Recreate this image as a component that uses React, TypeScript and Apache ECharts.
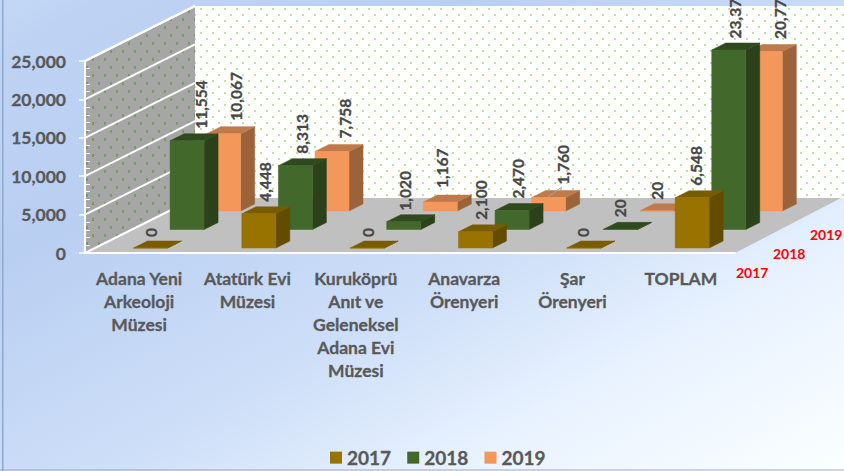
import React, { useEffect, useRef } from "react";
import * as echarts from "echarts";

const categories = [
  "Adana Yeni\nArkeoloji\nMüzesi",
  "Atatürk Evi\nMüzesi",
  "Kuruköprü\nAnıt ve\nGeleneksel\nAdana Evi\nMüzesi",
  "Anavarza\nÖrenyeri",
  "Şar\nÖrenyeri",
  "TOPLAM",
];
const years = ["2017", "2018", "2019"];
const values2017 = [0, 4448, 0, 2100, 0, 6548];
const values2018 = [11554, 8313, 1020, 2470, 20, 23377];
const values2019 = [10067, 7758, 1167, 1760, 20, 20772];
const axisTicks = [0, 5000, 10000, 15000, 20000, 25000];

const FONT = "Lato, Carlito, sans-serif";
const TEXT = "#595959";

// depth-projection constants of the 3D look
const WALL_DX = 110, WALL_DY = 55;
const SLOT_DX = 36.6, SLOT_DY = 18.5;
const BAR_W = 34, BAR_DX = 14, BAR_DY = 7;
const BAR_SHIFT = -5.7, FRONT_GAP = 5;

const faces = [
  { front: "#997300", side: "#634b00", top: "#7a5c00" },
  { front: "#43682b", side: "#2a4119", top: "#2f4a1e" },
  { front: "#f4975a", side: "#9c6239", top: "#bf7a4b" },
];

// label placement per series/category: [shift from bar's left edge, gap above the bar]
const labelPlacement = [
  [[17.5, 4], [23, 5], [18, 4], [23, 5], [16.5, 4], [21, 5]],
  [[31, 5], [24, 5], [18, 4], [23, 5], [17, 5], [23, 4.5]],
  [[29, 6], [30, 6], [19, 7], [31, 6], [17, 4], [32, 5.5]],
];

function dotPattern(w: number, h: number, color: string, dw: number, dh: number) {
  const c = document.createElement("canvas");
  c.width = w;
  c.height = h;
  const g = c.getContext("2d")!;
  g.fillStyle = color;
  g.fillRect(2, 2, dw, dh);
  g.fillRect(2 + w / 2, 2 + h / 2, dw, dh);
  return { image: c, repeat: "repeat" } as any;
}

function barGeometry(api: any, s: number) {
  const i = api.value(0);
  const v = api.value(1);
  const [cx, y0] = api.coord([i, 0]);
  const [, yv] = api.coord([i, v]);
  const x = cx + BAR_SHIFT + SLOT_DX * s;
  const base = y0 - FRONT_GAP - SLOT_DY * s;
  const top = base - (y0 - yv);
  return { i, v, x, base, top };
}

export default function App() {
  const ref = useRef<HTMLDivElement>(null);
  useEffect(() => {
    document.body.style.margin = "0";
    const chart = echarts.init(ref.current!, undefined, { renderer: "svg" });
    const backDots = dotPattern(12, 12, "#bfe39a", 2, 2);
    const sideDots = dotPattern(12, 16, "#7a9c60", 2, 3);

    const wallSeries: any = {
      type: "custom",
      name: "walls",
      silent: true,
      z: 1,
      data: axisTicks.map((t) => [0, t]),
      encode: { x: 0, y: 1 },
      renderItem: (params: any, api: any) => {
        const cs = params.coordSys;
        const [, y] = api.coord([0, api.value(1)]);
        const line = {
          type: "line",
          shape: { x1: cs.x, y1: y, x2: cs.x + WALL_DX, y2: y - WALL_DY },
          style: { stroke: "#ffffff", lineWidth: 2 },
        };
        if (params.dataIndex > 0) return line;
        const bottom = cs.y + cs.height;
        const left = cs.x;
        const right = cs.x + cs.width;
        const mk = (points: number[][], style: any) => ({ type: "polygon", shape: { points }, style });
        const backFill = { fill: "#ffffff" };
        return {
          type: "group",
          children: [
            mk([[left + WALL_DX, cs.y - WALL_DY], [844, cs.y - WALL_DY], [844, bottom - WALL_DY], [left + WALL_DX, bottom - WALL_DY]], backFill),
            mk([[left + WALL_DX, cs.y - WALL_DY], [844, cs.y - WALL_DY], [844, bottom - WALL_DY], [left + WALL_DX, bottom - WALL_DY]], { fill: backDots }),
            mk([[left, bottom], [left + WALL_DX, bottom - WALL_DY], [left + WALL_DX, cs.y - WALL_DY], [left, cs.y]], { fill: "#a6a6a6" }),
            mk([[left, bottom], [left + WALL_DX, bottom - WALL_DY], [left + WALL_DX, cs.y - WALL_DY], [left, cs.y]], { fill: sideDots }),
            mk([[left, bottom], [left + WALL_DX, bottom - WALL_DY], [right + 106, bottom - WALL_DY], [right, bottom]], { fill: "#c0c0c0" }),
            {
              type: "line",
              shape: { x1: left, y1: cs.y, x2: left + WALL_DX, y2: cs.y - WALL_DY },
              style: { stroke: "#ffffff", lineWidth: 2 },
            },
            line,
          ],
        };
      },
    };

    const yearValues = [values2017, values2018, values2019];

    const barSeries = yearValues.map((vals, s) => ({
      type: "custom",
      name: years[s],
      z: 6 - s,
      itemStyle: { color: faces[s].front },
      data: vals.map((v, i) => [i, v]),
      encode: { x: 0, y: 1 },
      renderItem: (_p: any, api: any) => {
        const { x, base, top } = barGeometry(api, s);
        const f = faces[s];
        const r = x + BAR_W;
        const poly = (points: number[][], fill: string) => ({
          type: "polygon",
          shape: { points },
          style: { fill, stroke: fill, lineWidth: 0.5 },
        });
        return {
          type: "group",
          children: [
            poly([[r, base], [r + BAR_DX, base - BAR_DY], [r + BAR_DX, top - BAR_DY], [r, top]], f.side),
            poly([[x, top], [r, top], [r + BAR_DX, top - BAR_DY], [x + BAR_DX, top - BAR_DY]], f.top),
            poly([[x, base], [r, base], [r, top], [x, top]], f.front),
          ],
        };
      },
    }));

    const labelSeries = yearValues.map((vals, s) => ({
      type: "custom",
      name: "labels" + years[s],
      silent: true,
      z: 10,
      data: vals.map((v, i) => [i, v]),
      encode: { x: 0, y: 1 },
      renderItem: (_p: any, api: any) => {
        const { i, v, x, top } = barGeometry(api, s);
        const [dx, gap] = labelPlacement[s][i];
        return {
          type: "text",
          x: x + dx,
          y: top - BAR_DY - gap,
          rotation: Math.PI / 2,
          style: {
            text: Number(v).toLocaleString("en-US"),
            font: `bold 15.5px ${FONT}`,
            fill: "#474747",
            stroke: "#474747",
            lineWidth: 0.3,
            align: "left",
            verticalAlign: "middle",
          },
        };
      },
    }));

    chart.setOption({
      animation: false,
      backgroundColor: {
        type: "linear", x: 0, y: 0, x2: 1, y2: 1,
        colorStops: [
          { offset: 0, color: "#c4d8f5" },
          { offset: 0.06, color: "#bed3f4" },
          { offset: 0.28, color: "#b9cff2" },
          { offset: 0.57, color: "#cedff8" },
          { offset: 0.76, color: "#e8f2ff" },
          { offset: 1, color: "#fbffff" },
        ],
      },
      grid: { left: 85, right: 109, top: 61, bottom: 218 },
      xAxis: {
        type: "category",
        z: 3,
        data: categories,
        axisLine: { lineStyle: { color: "#ffffff", width: 2 } },
        axisTick: { show: false },
        axisLabel: {
          interval: 0,
          margin: 14,
          lineHeight: 23,
          fontFamily: FONT,
          fontWeight: "bold",
          fontSize: 17.5,
          color: TEXT,
          textBorderColor: TEXT,
          textBorderWidth: 0.3,
        },
      },
      yAxis: {
        type: "value",
        z: 3,
        min: 0,
        max: 25000,
        interval: 5000,
        axisLine: { show: true, lineStyle: { color: "#ffffff", width: 2 } },
        axisTick: { show: true, length: 6, lineStyle: { color: "#ffffff", width: 1.5 } },
        minorTick: { show: true, splitNumber: 5, length: -5, lineStyle: { color: "#ffffff", width: 1 } },
        splitLine: { show: false },
        axisLabel: {
          margin: 19,
          fontFamily: FONT,
          fontWeight: "bold",
          fontSize: 17.5,
          color: TEXT,
          textBorderColor: TEXT,
          textBorderWidth: 0.3,
          formatter: (v: number) => v.toLocaleString("en-US"),
        },
      },
      legend: {
        data: years,
        left: 325,
        top: 443,
        icon: "rect",
        itemWidth: 12,
        itemHeight: 12,
        itemGap: 16,
        selectedMode: false,
        textStyle: {
          fontFamily: FONT, fontWeight: "bold", fontSize: 19, color: TEXT,
          textBorderColor: TEXT, textBorderWidth: 0.3,
        },
      },
      graphic: [
        { type: "rect", silent: true, z: 20, shape: { x: 2, y: 0, width: 1.5, height: 471 }, style: { fill: "#8fa9cf" } },
        { type: "rect", silent: true, z: 20, shape: { x: 0, y: 469, width: 844, height: 2 }, style: { fill: "rgba(150,165,190,0.45)" } },
        ...years.map((y, s) => ({
          type: "text",
          silent: true,
          z: 20,
          left: 736 + 37 * s,
          top: 265 - 19 * s,
          style: { text: y, font: `bold 14px ${FONT}`, fill: "#ff0000" },
        })),
        {
          type: "line",
          silent: true,
          z: 20,
          shape: { x1: 548, y1: 197, x2: 562, y2: 187 },
          style: { stroke: "#a6a6a6", lineWidth: 1 },
        },
      ],
      series: [wallSeries, ...barSeries, ...labelSeries],
    });
    return () => chart.dispose();
  }, []);
  return <div ref={ref} style={{ width: 844, height: 471 }} />;
}
